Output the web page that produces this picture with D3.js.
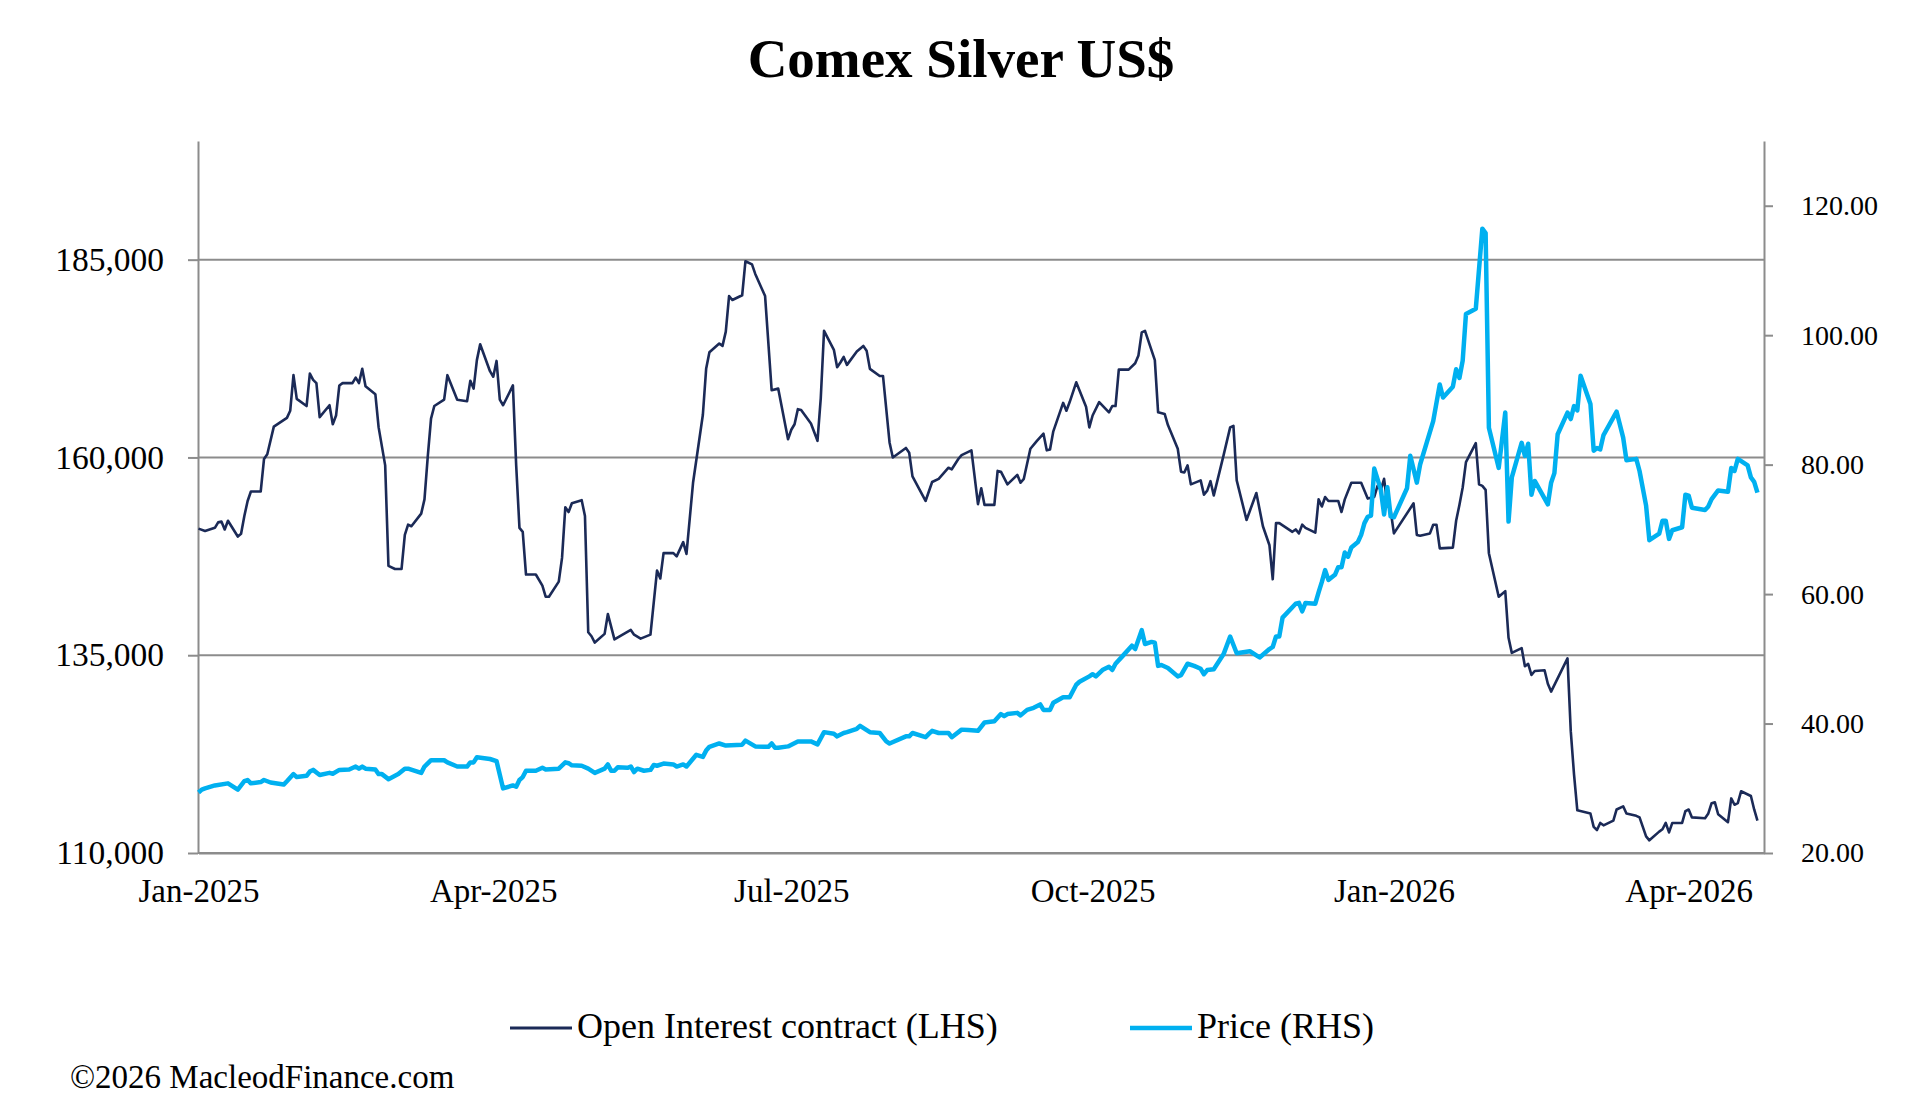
<!DOCTYPE html>
<html>
<head>
<meta charset="utf-8">
<script src="https://cdn.jsdelivr.net/npm/d3@7"></script>
<style>
  body { margin: 0; background: #fff; }
  svg { display: block; font-family: 'Liberation Serif', 'Times New Roman', serif; }
</style>
</head>
<body>
<svg id="chart" width="1906" height="1116"></svg>
<script>
// Comex silver: open interest (left axis) and price (right axis)
const openInterest = [
  ['2025-01-01', 151000], ['2025-01-03', 150700], ['2025-01-06', 151100], ['2025-01-07', 151800], ['2025-01-08', 151900],
  ['2025-01-09', 150900], ['2025-01-10', 152000], ['2025-01-13', 150000], ['2025-01-14', 150350], ['2025-01-15', 152600],
  ['2025-01-16', 154500], ['2025-01-17', 155700], ['2025-01-20', 155700], ['2025-01-21', 159800], ['2025-01-22', 160400],
  ['2025-01-24', 163900], ['2025-01-28', 165000], ['2025-01-29', 165900], ['2025-01-30', 170400], ['2025-01-31', 167400],
  ['2025-02-03', 166500], ['2025-02-04', 170600], ['2025-02-05', 169800], ['2025-02-06', 169400], ['2025-02-07', 165100],
  ['2025-02-10', 166600], ['2025-02-11', 164200], ['2025-02-12', 165300], ['2025-02-13', 169100], ['2025-02-14', 169400],
  ['2025-02-17', 169400], ['2025-02-18', 170100], ['2025-02-19', 169400], ['2025-02-20', 171200], ['2025-02-21', 169000],
  ['2025-02-24', 168000], ['2025-02-25', 163800], ['2025-02-27', 159000], ['2025-02-28', 146300], ['2025-03-02', 145900],
  ['2025-03-04', 145900], ['2025-03-05', 150200], ['2025-03-06', 151500], ['2025-03-07', 151300], ['2025-03-10', 152900],
  ['2025-03-11', 154700], ['2025-03-12', 160100], ['2025-03-13', 164900], ['2025-03-14', 166500], ['2025-03-17', 167300],
  ['2025-03-18', 170400], ['2025-03-21', 167300], ['2025-03-24', 167100], ['2025-03-25', 169700], ['2025-03-26', 168700],
  ['2025-03-27', 172300], ['2025-03-28', 174300], ['2025-03-31', 170900], ['2025-04-01', 170200], ['2025-04-02', 172200],
  ['2025-04-03', 167300], ['2025-04-04', 166600], ['2025-04-07', 169100], ['2025-04-08', 159000], ['2025-04-09', 151100],
  ['2025-04-10', 150600], ['2025-04-11', 145200], ['2025-04-14', 145200], ['2025-04-16', 143800], ['2025-04-17', 142400],
  ['2025-04-18', 142400], ['2025-04-21', 144300], ['2025-04-22', 147300], ['2025-04-23', 153700], ['2025-04-24', 153100],
  ['2025-04-25', 154200], ['2025-04-28', 154600], ['2025-04-29', 152600], ['2025-04-30', 137900], ['2025-05-01', 137400],
  ['2025-05-02', 136600], ['2025-05-05', 137700], ['2025-05-06', 140200], ['2025-05-08', 137000], ['2025-05-13', 138200],
  ['2025-05-14', 137600], ['2025-05-16', 137100], ['2025-05-19', 137600], ['2025-05-21', 145700], ['2025-05-22', 144700],
  ['2025-05-23', 147900], ['2025-05-26', 147900], ['2025-05-27', 147500], ['2025-05-29', 149300], ['2025-05-30', 147800],
  ['2025-06-01', 156800], ['2025-06-04', 165400], ['2025-06-05', 171200], ['2025-06-06', 173300], ['2025-06-09', 174400],
  ['2025-06-10', 174100], ['2025-06-11', 175900], ['2025-06-12', 180400], ['2025-06-13', 179900], ['2025-06-16', 180500],
  ['2025-06-17', 184800], ['2025-06-19', 184400], ['2025-06-20', 183200], ['2025-06-23', 180400], ['2025-06-25', 168500],
  ['2025-06-27', 168700], ['2025-06-30', 162300], ['2025-07-01', 163500], ['2025-07-02', 164200], ['2025-07-03', 166100],
  ['2025-07-04', 166000], ['2025-07-07', 164300], ['2025-07-09', 162100], ['2025-07-10', 167500], ['2025-07-11', 176000],
  ['2025-07-14', 173600], ['2025-07-15', 171400], ['2025-07-16', 172000], ['2025-07-17', 172700], ['2025-07-18', 171700],
  ['2025-07-21', 173400], ['2025-07-23', 174100], ['2025-07-24', 173500], ['2025-07-25', 171200], ['2025-07-28', 170300],
  ['2025-07-29', 170300], ['2025-07-31', 161900], ['2025-08-01', 160000], ['2025-08-05', 161200], ['2025-08-06', 160600],
  ['2025-08-07', 157600], ['2025-08-11', 154500], ['2025-08-13', 156900], ['2025-08-15', 157300], ['2025-08-18', 158700],
  ['2025-08-19', 158500], ['2025-08-21', 159800], ['2025-08-22', 160300], ['2025-08-25', 160900], ['2025-08-27', 154100],
  ['2025-08-28', 156100], ['2025-08-29', 154000], ['2025-09-01', 154000], ['2025-09-02', 158300], ['2025-09-03', 158200],
  ['2025-09-05', 156600], ['2025-09-08', 157800], ['2025-09-09', 156800], ['2025-09-10', 157300], ['2025-09-12', 161100],
  ['2025-09-14', 162100], ['2025-09-16', 163000], ['2025-09-17', 160900], ['2025-09-18', 161000], ['2025-09-19', 163300],
  ['2025-09-22', 166900], ['2025-09-23', 165900], ['2025-09-24', 167000], ['2025-09-26', 169500], ['2025-09-29', 166400],
  ['2025-09-30', 163800], ['2025-10-01', 165300], ['2025-10-03', 167000], ['2025-10-06', 165700], ['2025-10-07', 166500],
  ['2025-10-08', 166500], ['2025-10-09', 171100], ['2025-10-12', 171100], ['2025-10-14', 171900], ['2025-10-15', 172900],
  ['2025-10-16', 175800], ['2025-10-17', 176000], ['2025-10-20', 172300], ['2025-10-21', 165700], ['2025-10-23', 165500],
  ['2025-10-24', 164100], ['2025-10-27', 161100], ['2025-10-28', 158200], ['2025-10-29', 158100], ['2025-10-30', 159000],
  ['2025-10-31', 156600], ['2025-11-03', 157100], ['2025-11-04', 155300], ['2025-11-05', 155800], ['2025-11-06', 157000],
  ['2025-11-07', 155200], ['2025-11-10', 160300], ['2025-11-12', 163800], ['2025-11-13', 164000], ['2025-11-14', 157100],
  ['2025-11-17', 152100], ['2025-11-20', 155500], ['2025-11-22', 151300], ['2025-11-24', 148900], ['2025-11-25', 144600],
  ['2025-11-26', 151700], ['2025-11-27', 151700], ['2025-12-01', 150600], ['2025-12-02', 150900], ['2025-12-03', 150400],
  ['2025-12-04', 151500], ['2025-12-05', 151100], ['2025-12-08', 150500], ['2025-12-09', 154700], ['2025-12-10', 153800],
  ['2025-12-11', 155000], ['2025-12-12', 154500], ['2025-12-15', 154500], ['2025-12-16', 153100], ['2025-12-17', 154700],
  ['2025-12-19', 156800], ['2025-12-22', 156800], ['2025-12-24', 154800], ['2025-12-26', 155000], ['2025-12-27', 156400],
  ['2025-12-28', 155900], ['2025-12-29', 157300], ['2025-12-30', 154000], ['2025-12-31', 153300], ['2026-01-01', 150400],
  ['2026-01-07', 154200], ['2026-01-08', 150200], ['2026-01-09', 150100], ['2026-01-12', 150400], ['2026-01-13', 151500],
  ['2026-01-14', 151500], ['2026-01-15', 148500], ['2026-01-19', 148600], ['2026-01-20', 152000], ['2026-01-21', 154000],
  ['2026-01-22', 156200], ['2026-01-23', 159400], ['2026-01-26', 161800], ['2026-01-27', 156600], ['2026-01-28', 156400],
  ['2026-01-29', 155900], ['2026-01-30', 147900], ['2026-02-02', 142400], ['2026-02-04', 143100], ['2026-02-05', 137200],
  ['2026-02-06', 135300], ['2026-02-09', 135900], ['2026-02-10', 133600], ['2026-02-11', 133900], ['2026-02-12', 132500],
  ['2026-02-13', 133000], ['2026-02-16', 133100], ['2026-02-17', 131400], ['2026-02-18', 130400], ['2026-02-23', 134600],
  ['2026-02-24', 125400], ['2026-02-25', 119900], ['2026-02-26', 115400], ['2026-03-02', 115000], ['2026-03-03', 113300],
  ['2026-03-04', 112900], ['2026-03-05', 113800], ['2026-03-06', 113500], ['2026-03-09', 114100], ['2026-03-10', 115500],
  ['2026-03-12', 115900], ['2026-03-13', 115000], ['2026-03-16', 114700], ['2026-03-17', 114500], ['2026-03-18', 113300],
  ['2026-03-19', 112100], ['2026-03-20', 111600], ['2026-03-23', 112700], ['2026-03-24', 113000], ['2026-03-25', 113800],
  ['2026-03-26', 112600], ['2026-03-27', 113800], ['2026-03-30', 113800], ['2026-03-31', 115300], ['2026-04-01', 115500],
  ['2026-04-02', 114500], ['2026-04-06', 114400], ['2026-04-07', 115000], ['2026-04-08', 116300], ['2026-04-09', 116400],
  ['2026-04-10', 114900], ['2026-04-13', 113900], ['2026-04-14', 116900], ['2026-04-15', 116100], ['2026-04-16', 116300],
  ['2026-04-17', 117800], ['2026-04-20', 117200], ['2026-04-21', 115500], ['2026-04-22', 114100]
]

const price = [
  ['2025-01-01', 29.34], ['2025-01-02', 29.79], ['2025-01-03', 29.98], ['2025-01-06', 30.44], ['2025-01-10', 30.76],
  ['2025-01-13', 29.79], ['2025-01-14', 30.44], ['2025-01-15', 31.09], ['2025-01-16', 31.28], ['2025-01-17', 30.76],
  ['2025-01-20', 30.96], ['2025-01-21', 31.28], ['2025-01-23', 30.89], ['2025-01-27', 30.57], ['2025-01-28', 31.09],
  ['2025-01-30', 32.19], ['2025-01-31', 31.73], ['2025-02-03', 31.93], ['2025-02-04', 32.58], ['2025-02-05', 32.84],
  ['2025-02-07', 32.06], ['2025-02-10', 32.38], ['2025-02-11', 32.25], ['2025-02-13', 32.84], ['2025-02-16', 32.90],
  ['2025-02-18', 33.36], ['2025-02-19', 33.03], ['2025-02-20', 33.36], ['2025-02-21', 33.03], ['2025-02-24', 32.90],
  ['2025-02-25', 32.19], ['2025-02-26', 32.19], ['2025-02-28', 31.41], ['2025-03-03', 32.19], ['2025-03-05', 33.03],
  ['2025-03-06', 33.03], ['2025-03-10', 32.38], ['2025-03-11', 33.36], ['2025-03-13', 34.33], ['2025-03-17', 34.33],
  ['2025-03-18', 34.00], ['2025-03-21', 33.36], ['2025-03-24', 33.36], ['2025-03-25', 34.00], ['2025-03-26', 34.00],
  ['2025-03-27', 34.78], ['2025-03-31', 34.52], ['2025-04-02', 34.20], ['2025-04-04', 29.98], ['2025-04-07', 30.44],
  ['2025-04-08', 30.24], ['2025-04-09', 31.28], ['2025-04-10', 31.73], ['2025-04-11', 32.71], ['2025-04-14', 32.71],
  ['2025-04-16', 33.16], ['2025-04-17', 32.90], ['2025-04-21', 33.03], ['2025-04-23', 34.00], ['2025-04-24', 33.87],
  ['2025-04-25', 33.55], ['2025-04-28', 33.48], ['2025-04-30', 33.03], ['2025-05-02', 32.38], ['2025-05-05', 33.03],
  ['2025-05-06', 33.68], ['2025-05-07', 32.71], ['2025-05-08', 32.71], ['2025-05-09', 33.23], ['2025-05-12', 33.16],
  ['2025-05-13', 33.36], ['2025-05-14', 32.51], ['2025-05-15', 33.03], ['2025-05-17', 32.71], ['2025-05-19', 32.84],
  ['2025-05-20', 33.61], ['2025-05-21', 33.48], ['2025-05-23', 33.81], ['2025-05-26', 33.68], ['2025-05-27', 33.36],
  ['2025-05-29', 33.68], ['2025-05-30', 33.36], ['2025-06-02', 35.17], ['2025-06-04', 34.85], ['2025-06-05', 35.82],
  ['2025-06-06', 36.40], ['2025-06-09', 36.92], ['2025-06-11', 36.60], ['2025-06-16', 36.73], ['2025-06-17', 37.37],
  ['2025-06-20', 36.47], ['2025-06-24', 36.40], ['2025-06-25', 36.92], ['2025-06-26', 36.27], ['2025-06-27', 36.27],
  ['2025-06-30', 36.47], ['2025-07-03', 37.24], ['2025-07-07', 37.24], ['2025-07-09', 36.79], ['2025-07-11', 38.67],
  ['2025-07-14', 38.41], ['2025-07-15', 38.02], ['2025-07-17', 38.54], ['2025-07-18', 38.67], ['2025-07-21', 39.19],
  ['2025-07-22', 39.64], ['2025-07-25', 38.67], ['2025-07-28', 38.54], ['2025-07-30', 37.24], ['2025-07-31', 36.92],
  ['2025-08-05', 38.02], ['2025-08-06', 38.02], ['2025-08-07', 38.54], ['2025-08-11', 37.89], ['2025-08-12', 38.41],
  ['2025-08-13', 38.87], ['2025-08-15', 38.54], ['2025-08-18', 38.54], ['2025-08-19', 37.89], ['2025-08-22', 39.06],
  ['2025-08-24', 38.99], ['2025-08-27', 38.87], ['2025-08-29', 40.16], ['2025-09-01', 40.36], ['2025-09-03', 41.46],
  ['2025-09-04', 41.13], ['2025-09-05', 41.46], ['2025-09-08', 41.65], ['2025-09-09', 41.26], ['2025-09-11', 42.11],
  ['2025-09-13', 42.43], ['2025-09-15', 42.95], ['2025-09-16', 42.11], ['2025-09-18', 42.11], ['2025-09-19', 43.21],
  ['2025-09-22', 44.05], ['2025-09-24', 44.05], ['2025-09-26', 46.00], ['2025-09-27', 46.45], ['2025-09-30', 47.29],
  ['2025-10-01', 47.62], ['2025-10-02', 47.29], ['2025-10-04', 48.27], ['2025-10-06', 48.78], ['2025-10-07', 48.27],
  ['2025-10-08', 49.24], ['2025-10-10', 50.34], ['2025-10-13', 52.03], ['2025-10-14', 51.51], ['2025-10-16', 54.43],
  ['2025-10-17', 52.29], ['2025-10-19', 52.61], ['2025-10-20', 52.48], ['2025-10-21', 48.91], ['2025-10-22', 49.04],
  ['2025-10-24', 48.59], ['2025-10-27', 47.29], ['2025-10-28', 47.49], ['2025-10-30', 49.24], ['2025-11-01', 48.91],
  ['2025-11-03', 48.46], ['2025-11-04', 47.62], ['2025-11-05', 48.27], ['2025-11-07', 48.40], ['2025-11-10', 50.73],
  ['2025-11-12', 53.45], ['2025-11-14', 50.86], ['2025-11-18', 51.18], ['2025-11-20', 50.53], ['2025-11-21', 50.21],
  ['2025-11-24', 51.51], ['2025-11-25', 51.83], ['2025-11-26', 53.45], ['2025-11-27', 53.45], ['2025-11-28', 56.37],
  ['2025-12-02', 58.51], ['2025-12-03', 58.64], ['2025-12-04', 57.34], ['2025-12-05', 58.64], ['2025-12-08', 58.51],
  ['2025-12-09', 60.26], ['2025-12-10', 61.88], ['2025-12-11', 63.70], ['2025-12-12', 62.20], ['2025-12-14', 62.98],
  ['2025-12-15', 64.15], ['2025-12-16', 64.15], ['2025-12-17', 66.42], ['2025-12-18', 65.77], ['2025-12-19', 67.20],
  ['2025-12-21', 68.04], ['2025-12-22', 69.14], ['2025-12-23', 70.96], ['2025-12-24', 71.93], ['2025-12-25', 72.12],
  ['2025-12-26', 79.39], ['2025-12-28', 76.14], ['2025-12-29', 72.30], ['2025-12-30', 76.50], ['2025-12-31', 72.00],
  ['2026-01-01', 71.87], ['2026-01-05', 76.35], ['2026-01-06', 81.36], ['2026-01-08', 77.22], ['2026-01-09', 80.02],
  ['2026-01-13', 86.71], ['2026-01-15', 92.39], ['2026-01-16', 90.38], ['2026-01-19', 92.05], ['2026-01-20', 94.73],
  ['2026-01-21', 93.39], ['2026-01-22', 96.06], ['2026-01-23', 103.28], ['2026-01-26', 104.08], ['2026-01-28', 116.45],
  ['2026-01-29', 115.78], ['2026-01-30', 85.70], ['2026-02-02', 79.49], ['2026-02-04', 88.04], ['2026-02-05', 71.20],
  ['2026-02-06', 78.02], ['2026-02-09', 83.36], ['2026-02-10', 81.36], ['2026-02-11', 83.23], ['2026-02-12', 75.34],
  ['2026-02-13', 77.48], ['2026-02-17', 73.87], ['2026-02-18', 77.21], ['2026-02-19', 78.69], ['2026-02-20', 84.70],
  ['2026-02-23', 88.04], ['2026-02-24', 87.04], ['2026-02-25', 89.05], ['2026-02-26', 88.38], ['2026-02-27', 93.73],
  ['2026-03-02', 89.38], ['2026-03-03', 82.16], ['2026-03-04', 82.56], ['2026-03-05', 82.36], ['2026-03-06', 84.57],
  ['2026-03-10', 88.18], ['2026-03-12', 84.17], ['2026-03-13', 80.69], ['2026-03-16', 80.89], ['2026-03-17', 79.02],
  ['2026-03-19', 73.67], ['2026-03-20', 68.33], ['2026-03-23', 69.33], ['2026-03-24', 71.33], ['2026-03-25', 71.33],
  ['2026-03-26', 68.53], ['2026-03-27', 69.86], ['2026-03-30', 70.33], ['2026-03-31', 75.34], ['2026-04-01', 75.21],
  ['2026-04-02', 73.34], ['2026-04-06', 73.00], ['2026-04-07', 73.54], ['2026-04-08', 74.67], ['2026-04-10', 76.01],
  ['2026-04-13', 75.81], ['2026-04-14', 79.49], ['2026-04-15', 79.02], ['2026-04-16', 80.89], ['2026-04-19', 79.89],
  ['2026-04-20', 78.02], ['2026-04-21', 77.35], ['2026-04-22', 75.68]
]

const oiTicks = [110000, 135000, 160000, 185000]
const priceTicks = [20, 40, 60, 80, 100, 120]
const dateTicks = ['2025-01-01', '2025-04-01', '2025-07-01', '2025-10-01', '2026-01-01', '2026-04-01']
const seriesNames = ['Open Interest contract (LHS)', 'Price (RHS)']

const c = {
  margin: { left: 198, right: 1764, top: 141, bottom: 853 },
  colors: ['#1b2a57', '#00b0f0'],
  grid: '#8c8c8c',
  font: "'Liberation Serif', 'Times New Roman', serif",
}

const parse = d3.timeParse('%Y-%m-%d')
const svg = d3.select('#chart')

const xScale = d3.scaleTime([parse('2025-01-01'), parse('2026-04-24')], [c.margin.left + 0.5, c.margin.right])
const yLeft = d3.scaleLinear([110000, 200000], [c.margin.bottom, c.margin.top])
const yRight = d3.scaleLinear([20, 130], [c.margin.bottom, c.margin.top])

// Title
svg.append('text')
  .attr('x', 961)
  .attr('y', 77)
  .attr('text-anchor', 'middle')
  .attr('font-size', 55)
  .attr('font-weight', 'bold')
  .text('Comex Silver US$')

// Gridlines
svg.append('g')
  .selectAll('line')
  .data(oiTicks)
  .join('line')
  .attr('x1', c.margin.left)
  .attr('x2', c.margin.right)
  .attr('y1', (d) => yLeft(d))
  .attr('y2', (d) => yLeft(d))
  .attr('stroke', c.grid)
  .attr('stroke-width', 2)

// Axes
const leftAxis = svg.append('g')
  .attr('transform', `translate(${ c.margin.left },0)`)
  .call(d3.axisLeft(yLeft).tickValues(oiTicks).tickFormat(d3.format(',')).tickSizeInner(10).tickSizeOuter(0).tickPadding(24))

const rightAxis = svg.append('g')
  .attr('transform', `translate(${ c.margin.right },0)`)
  .call(d3.axisRight(yRight).tickValues(priceTicks).tickFormat(d3.format('.2f')).tickSizeInner(9).tickSizeOuter(0).tickPadding(28))

const bottomAxis = svg.append('g')
  .attr('transform', `translate(0,${ c.margin.bottom })`)
  .call(d3.axisBottom(xScale).tickValues(dateTicks.map(parse)).tickFormat(d3.timeFormat('%b-%Y')).tickSize(0))

bottomAxis.selectAll('.tick text').attr('y', 49).attr('dy', 0)

svg.selectAll('.domain, .tick line').attr('stroke', c.grid).attr('stroke-width', 2)
svg.selectAll('.tick text').attr('fill', '#000').style('font-family', c.font)
leftAxis.selectAll('.tick text').style('font-size', '33.5px')
rightAxis.selectAll('.tick text').style('font-size', '28px')
bottomAxis.selectAll('.tick text').style('font-size', '33px')

// Lines
const oiLine = d3.line()
  .x((d) => xScale(parse(d[0])))
  .y((d) => yLeft(d[1]))

const priceLine = d3.line()
  .x((d) => xScale(parse(d[0])))
  .y((d) => yRight(d[1]))

svg.append('path')
  .datum(openInterest)
  .attr('d', oiLine)
  .attr('fill', 'none')
  .attr('stroke', c.colors[0])
  .attr('stroke-width', 2.6)
  .attr('stroke-linejoin', 'round')

svg.append('path')
  .datum(price)
  .attr('d', priceLine)
  .attr('fill', 'none')
  .attr('stroke', c.colors[1])
  .attr('stroke-width', 4.5)
  .attr('stroke-linejoin', 'round')

// Legend
const legend = svg.append('g')
  .selectAll('g')
  .data(seriesNames)
  .join('g')
  .attr('transform', (d, i) => `translate(${ [510, 1130][i] },1028)`)

legend.append('line')
  .attr('x1', 0)
  .attr('x2', 62)
  .attr('stroke', (d, i) => c.colors[i])
  .attr('stroke-width', (d, i) => [2.8, 4.5][i])

legend.append('text')
  .attr('x', 67)
  .attr('y', 10)
  .attr('font-size', 36)
  .text((d) => d)

// Footer
svg.append('text')
  .attr('x', 70)
  .attr('y', 1088)
  .attr('font-size', 33)
  .text('©2026 MacleodFinance.com')
</script>
</body>
</html>
